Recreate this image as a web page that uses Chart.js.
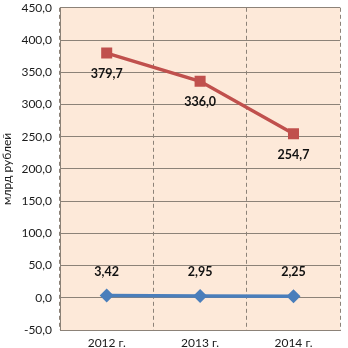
<!DOCTYPE html>
<html>
<head>
<meta charset="utf-8">
<script src="https://cdn.jsdelivr.net/npm/chart.js@4"></script>
<style>
html,body{margin:0;padding:0;background:#fff;}
#wrap{width:348px;height:348px;}
</style>
</head>
<body>
<div id="wrap"><canvas id="c" width="348" height="348"></canvas></div>
<script>
const categories = ['2012 г.', '2013 г.', '2014 г.'];
const seriesRed = [379.7, 336.0, 254.7];
const seriesBlue = [3.42, 2.95, 2.25];
const redDecimals = 1;
const blueDecimals = 2;
const yMin = -50;
const yMax = 450;
const yStep = 50;
const yTitle = 'млрд рублей';

const fmt = (v, d) => v.toFixed(d).replace('.', ',');

const bgPlugin = {
  id: 'bg',
  beforeDraw(chart) {
    const a = chart.chartArea, ctx = chart.ctx;
    ctx.save();
    ctx.fillStyle = '#FDE9D9';
    ctx.fillRect(a.left, a.top, a.right - a.left, a.bottom - a.top);
    ctx.restore();
  }
};

const labelPlugin = {
  id: 'lbl',
  afterDatasetsDraw(chart) {
    const ctx = chart.ctx;
    ctx.save();
    ctx.font = 'bold 12.5px Lato, "Open Sans", sans-serif';
    ctx.fillStyle = '#111111';
    ctx.textAlign = 'center';
    ctx.textBaseline = 'middle';
    chart.data.datasets.forEach((ds, i) => {
      const meta = chart.getDatasetMeta(i);
      meta.data.forEach((pt, j) => {
        const txt = fmt(ds.data[j], ds.decimals);
        const y = pt.y + ds.labelOffset;
        ctx.fillText(txt, pt.x, y);
      });
    });
    ctx.restore();
  }
};

new Chart(document.getElementById('c'), {
  type: 'line',
  data: {
    labels: categories,
    datasets: [
      {
        data: seriesRed,
        decimals: redDecimals,
        labelOffset: 21,
        borderColor: '#C0504D',
        backgroundColor: '#C0504D',
        borderWidth: 3.5,
        pointStyle: 'rect',
        pointRadius: 7.8,
        pointBorderWidth: 0,
        pointBackgroundColor: '#C0504D',
        tension: 0
      },
      {
        data: seriesBlue,
        decimals: blueDecimals,
        labelOffset: -24,
        borderColor: '#4A7EBB',
        backgroundColor: '#4A7EBB',
        borderWidth: 3.5,
        pointStyle: 'rectRot',
        pointRadius: 7,
        pointBorderWidth: 0,
        pointBackgroundColor: '#4A7EBB',
        tension: 0
      }
    ]
  },
  options: {
    responsive: false,
    animation: false,
    devicePixelRatio: 1,
    layout: { padding: { top: 5, right: 1, left: 0, bottom: 0 } },
    plugins: { legend: { display: false }, tooltip: { enabled: false } },
    scales: {
      x: {
        type: 'category',
        offset: true,
        grid: { display: true, offset: true, color: '#8C8278', lineWidth: 1, drawTicks: false },
        border: { display: true, color: '#8C8278', width: 1, dash: [4, 3] },
        ticks: { color: '#1a1a1a', font: { family: 'Lato', size: 12 }, padding: 6, maxRotation: 0 },
        afterFit(s) { s.height = 18; s.paddingLeft = 0; s.paddingRight = 0; }
      },
      y: {
        min: yMin,
        max: yMax,
        grid: { color: '#8C8278', lineWidth: 1, drawTicks: false },
        border: { display: true, color: '#8C8278', width: 1 },
        ticks: {
          stepSize: yStep,
          color: '#1a1a1a',
          font: { family: 'Lato', size: 12 },
          padding: 8,
          callback: (v) => fmt(v, 1)
        },
        title: { display: true, text: yTitle, color: '#1a1a1a', font: { family: 'Lato', size: 12 }, padding: 0 },
        afterFit(s) { s.width = 60; s.paddingTop = 0; s.paddingBottom = 0; }
      }
    }
  },
  plugins: [bgPlugin, labelPlugin]
});
</script>
</body>
</html>
